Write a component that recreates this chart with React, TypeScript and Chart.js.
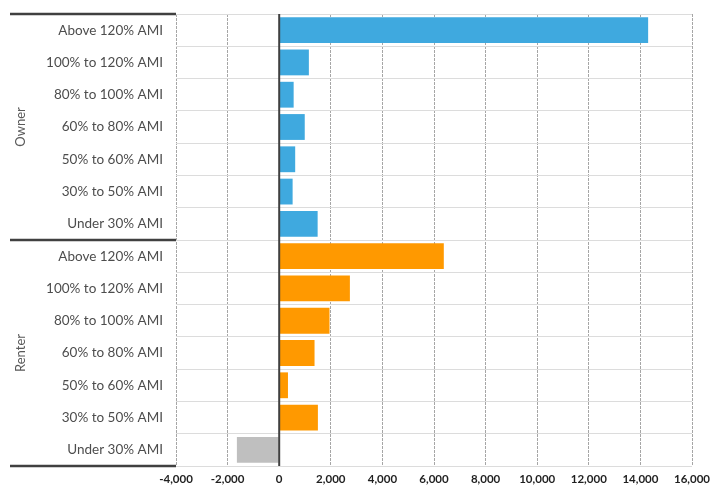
import React, { useEffect, useRef } from "react";
import { Chart, registerables } from "chart.js";

Chart.register(...registerables);

const incomeBands = [
  "Above 120% AMI",
  "100% to 120% AMI",
  "80% to 100% AMI",
  "60% to 80% AMI",
  "50% to 60% AMI",
  "30% to 50% AMI",
  "Under 30% AMI",
];
const groups = ["Owner", "Renter"];
const ownerValues = [14300, 1150, 560, 990, 620, 520, 1490];
const renterValues = [6380, 2740, 1950, 1370, 340, 1500, -1640];
const xTicks = [-4000, -2000, 0, 2000, 4000, 6000, 8000, 10000, 12000, 14000, 16000];

const ownerColor = "#3FA9DF";
const renterColor = "#FF9900";
const negativeColor = "#BFBFBF";
const FONT = "Lato, 'Open Sans', sans-serif";

export default function App() {
  const ref = useRef<HTMLCanvasElement | null>(null);

  useEffect(() => {
    document.body.style.margin = "0";
    const canvas = ref.current;
    if (!canvas) return;

    const labels = [...incomeBands, ...incomeBands];
    const values = [...ownerValues, ...renterValues];
    const colors = values.map((v, i) =>
      v < 0 ? negativeColor : i < incomeBands.length ? ownerColor : renterColor
    );

    const groupPlugin = {
      id: "groupPlugin",
      afterDatasetsDraw(chart: any) {
        const { ctx, chartArea, scales } = chart;
        const x = scales.x;
        ctx.save();
        const x0 = x.getPixelForValue(0);
        ctx.strokeStyle = "#404040";
        ctx.lineWidth = 2;
        ctx.beginPath();
        ctx.moveTo(x0, chartArea.top);
        ctx.lineTo(x0, chartArea.bottom);
        ctx.stroke();
        ctx.restore();
      },
      afterDraw(chart: any) {
        const { ctx, chartArea, scales } = chart;
        const y = scales.y;
        const n = incomeBands.length;
        const mid = (y.getPixelForValue(n - 1) + y.getPixelForValue(n)) / 2;
        ctx.save();
        ctx.strokeStyle = "#404040";
        ctx.lineWidth = 2.5;
        [chartArea.top, mid, chartArea.bottom].forEach((yy: number) => {
          ctx.beginPath();
          ctx.moveTo(10, yy);
          ctx.lineTo(chartArea.left, yy);
          ctx.stroke();
        });
        ctx.fillStyle = "#595959";
        ctx.font = `13px ${FONT}`;
        ctx.textAlign = "center";
        ctx.textBaseline = "middle";
        const centers = [
          (chartArea.top + mid) / 2,
          (mid + chartArea.bottom) / 2,
        ];
        groups.forEach((g, i) => {
          ctx.save();
          ctx.translate(21, centers[i]);
          ctx.rotate(-Math.PI / 2);
          ctx.fillText(g, 0, 0);
          ctx.restore();
        });
        ctx.restore();
      },
    };

    const chart = new Chart(canvas, {
      type: "bar",
      data: {
        labels,
        datasets: [
          {
            data: values,
            backgroundColor: colors,
            borderWidth: 0,
            barPercentage: 0.8,
            categoryPercentage: 1,
          },
        ],
      },
      options: {
        indexAxis: "y",
        animation: false,
        responsive: false,
        maintainAspectRatio: false,
        layout: { padding: { top: 14, right: 18, left: 0, bottom: 0 } },
        plugins: {
          legend: { display: false },
          tooltip: { enabled: false },
        },
        scales: {
          x: {
            type: "linear",
            min: -4000,
            max: 16000,
            afterBuildTicks(scale: any) {
              scale.ticks = xTicks.map((v) => ({ value: v }));
            },
            afterFit(scale: any) {
              scale.height = 23;
              scale.paddingLeft = 0;
              scale.paddingRight = 0;
            },
            grid: {
              color: "#A6A6A6",
              lineWidth: 1,
              drawTicks: false,
            },
            border: { display: false, dash: [3, 1] },
            ticks: {
              padding: 6,
              color: "#1F1F1F",
              font: { family: FONT, size: 11.5, weight: "bold" },
              callback: (v: any) => Number(v).toLocaleString("en-US"),
              maxRotation: 0,
              autoSkip: false,
            },
          },
          y: {
            afterFit(scale: any) {
              scale.width = 176;
              scale.paddingTop = 0;
              scale.paddingBottom = 0;
            },
            grid: {
              color: "#DCDCDC",
              lineWidth: 1,
              drawTicks: false,
              offset: true,
            },
            border: { display: false },
            ticks: {
              padding: 13,
              color: "#4D4D4D",
              font: { family: FONT, size: 13.5 },
              autoSkip: false,
            },
          },
        },
      },
      plugins: [groupPlugin],
    } as any);

    return () => chart.destroy();
  }, []);

  return (
    <div style={{ width: 710, height: 489 }}>
      <canvas ref={ref} width={710} height={489} style={{ display: "block" }} />
    </div>
  );
}
